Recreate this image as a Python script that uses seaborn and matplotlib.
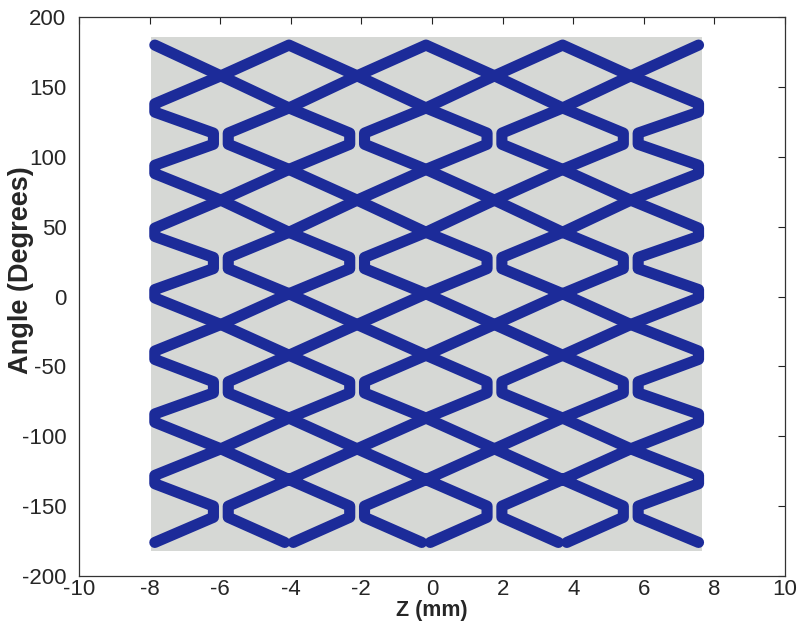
import matplotlib
matplotlib.use("Agg")
import matplotlib.pyplot as plt
import pandas as pd
import seaborn as sns
from matplotlib.patches import Rectangle

# ---- data ----
# Z positions (mm) of the strut-node columns
z_cols = [-7.85, -5.98, -4.05, -2.12, -0.17, 1.77, 3.70, 5.63, 7.55]
# Angular positions (degrees) of the strut-node rows
angle_rows = [-176, -154, -131, -109, -87, -65, -42, -20, 2,
              24, 46, 69, 91, 113, 135, 158, 180]
# rows (index) where the odd columns hold a ")(" pair of bends instead of a crossing
pair_rows = [1, 5, 9, 13]
# extent of the grey background (mm, degrees)
bg_z = [-7.95, 7.65]
bg_angle = [-182, 186]

xticks = [-10, -8, -6, -4, -2, 0, 2, 4, 6, 8, 10]
yticks = [-200, -150, -100, -50, 0, 50, 100, 150, 200]

# ---- style constants ----
PAIR_OFF = 0.21   # mm, half gap of a ")(" pair
PAIR_H = 4.0      # deg, half height of the bend's straight part
EDGE_H = 3.0
GAP_HALF = 0.12
WIRE_COLOR = "#1c2b99"
BG_COLOR = "#d6d8d5"

nK, nJ = len(z_cols), len(angle_rows)


def valid(k, j):
    return 0 <= k < nK and 0 <= j < nJ and (k + j) % 2 == 0


def node_type(k, j):
    if k in (0, nK - 1):
        return "end" if j in (0, nJ - 1) else "edge"
    if k % 2 == 1:
        return "pair" if j in pair_rows else "x"
    if j == nJ - 1:
        return "peak"
    if j == 0:
        return "gap"
    return "x"


def attach(k, j, dk, dj):
    t = node_type(k, j)
    z, a = z_cols[k], angle_rows[j]
    if t == "pair":
        return (z + dk * PAIR_OFF, a + dj * PAIR_H)
    if t == "edge":
        return (z, a + dj * EDGE_H)
    if t == "gap":
        return (z + dk * GAP_HALF, a)
    return (z, a)


def next_dir(k, j, dk, dj):
    t = node_type(k, j)
    if t == "x":
        return (-dk, -dj)
    if t in ("pair", "edge"):
        return (dk, -dj)
    if t == "peak":
        return (-dk, dj)
    return None


visited = set()


def ekey(a, b):
    return tuple(sorted([a, b]))


def trace(k, j, dk, dj):
    pts = [attach(k, j, dk, dj)]
    while True:
        nk, nj = k + dk, j + dj
        key = ekey((k, j), (nk, nj))
        if key in visited:
            break
        visited.add(key)
        pts.append(attach(nk, nj, -dk, -dj))
        nd = next_dir(nk, nj, -dk, -dj)
        if nd is None:
            break
        p_out = attach(nk, nj, nd[0], nd[1])
        if p_out != pts[-1]:
            pts.append(p_out)
        k, j, dk, dj = nk, nj, nd[0], nd[1]
    return pts


dirs = [(1, 1), (1, -1), (-1, 1), (-1, -1)]
wires = []
for k in range(nK):
    for j in range(nJ):
        if valid(k, j) and node_type(k, j) in ("end", "gap"):
            for dk, dj in dirs:
                if valid(k + dk, j + dj) and ekey((k, j), (k + dk, j + dj)) not in visited:
                    p = trace(k, j, dk, dj)
                    if len(p) > 1:
                        wires.append(p)
for k in range(nK):
    for j in range(nJ):
        if valid(k, j):
            for dk, dj in dirs:
                if valid(k + dk, j + dj) and ekey((k, j), (k + dk, j + dj)) not in visited:
                    p = trace(k, j, dk, dj)
                    if len(p) > 1:
                        wires.append(p)

rows = []
for w, pts in enumerate(wires):
    for i, (z, a) in enumerate(pts):
        rows.append({"wire": w, "order": i, "z": z, "angle": a})
df = pd.DataFrame(rows)

# ---- plot ----
sns.set_style("white")
plt.rcParams["font.family"] = ["Liberation Sans", "DejaVu Sans"]

fig = plt.figure(figsize=(7.97, 6.23), dpi=100)
ax = fig.add_axes([0.099, 0.0755, 0.886, 0.897])

ax.add_patch(Rectangle((bg_z[0], bg_angle[0]), bg_z[1] - bg_z[0],
                       bg_angle[1] - bg_angle[0], facecolor=BG_COLOR,
                       edgecolor="none", zorder=0))

sns.lineplot(data=df, x="z", y="angle", units="wire", estimator=None,
             sort=False, color=WIRE_COLOR, linewidth=8.0, legend=False,
             solid_capstyle="round", solid_joinstyle="round", ax=ax, zorder=2)

ax.set_xlim(-10, 10)
ax.set_ylim(-200, 200)
ax.set_xticks(xticks)
ax.set_yticks(yticks)
ax.set_xticklabels([str(t) for t in xticks], fontsize=16)
ax.set_yticklabels([str(t) for t in yticks], fontsize=16)
ax.tick_params(direction="in", top=True, right=True, length=5, width=0.8,
               color="#222222")
ax.tick_params(axis="x", pad=2)
ax.tick_params(axis="y", pad=9)
for s in ax.spines.values():
    s.set_color("#333333")
    s.set_linewidth(0.9)
ax.set_xlabel("Z (mm)", fontsize=15.5, fontweight="bold")
ax.xaxis.set_label_coords(0.5, -0.043)
ax.set_ylabel("Angle (Degrees)", fontsize=19.5, fontweight="bold")
ax.yaxis.set_label_coords(-0.064, 0.548)

fig.savefig("out.png", dpi=100)
